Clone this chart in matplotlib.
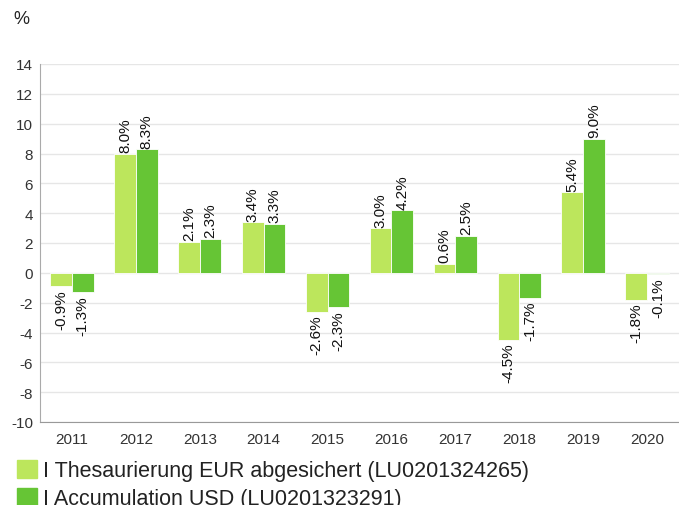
import numpy as np
import matplotlib.pyplot as plt
from matplotlib.patches import Patch

plt.rcParams['font.family'] = ['Liberation Sans', 'DejaVu Sans']
plt.rcParams['axes.unicode_minus'] = False

years = ["2011", "2012", "2013", "2014", "2015", "2016", "2017", "2018", "2019", "2020"]
eur_hedged = [-0.9, 8.0, 2.1, 3.4, -2.6, 3.0, 0.6, -4.5, 5.4, -1.8]
usd_acc = [-1.3, 8.3, 2.3, 3.3, -2.3, 4.2, 2.5, -1.7, 9.0, -0.1]
series_names = ["I Thesaurierung EUR abgesichert (LU0201324265)",
                "I Accumulation USD (LU0201323291)"]
colors = ["#bce65c", "#66c535"]

fig = plt.figure(figsize=(6.79, 5.06), dpi=100)
ax = fig.add_axes([40/679, 1-423/506, 1-40/679, (423-65)/506])

x = np.arange(len(years))
w = 0.34
for vals, off, c in [(eur_hedged, -w/2, colors[0]), (usd_acc, w/2, colors[1])]:
    bars = ax.bar(x + off, vals, width=w, color=c, edgecolor="white", linewidth=0.6, zorder=2)
    for b, v in zip(bars, vals):
        xc = b.get_x() + b.get_width()/2
        if v >= 0:
            ax.annotate(f"{v:.1f}%", (xc, v), xytext=(0, 1), textcoords="offset points",
                        rotation=90, ha="center", va="bottom", fontsize=11, color="#111111")
        else:
            ax.annotate(f"{v:.1f}%", (xc, v), xytext=(0, -2), textcoords="offset points",
                        rotation=90, ha="center", va="top", fontsize=11, color="#111111")

ax.set_xlim(-0.5, 9.5)
ax.set_ylim(-10, 14)
ax.set_yticks(range(-10, 15, 2))
ax.set_xticks(x)
ax.set_xticklabels(years)
ax.grid(axis="y", color="#e6e6e6", linewidth=1, zorder=0)
for s in ["top", "right"]:
    ax.spines[s].set_visible(False)
ax.spines["left"].set_color("#aaaaaa")
ax.spines["bottom"].set_color("#999999")
ax.tick_params(axis="y", length=0, labelsize=11, labelcolor="#333333", pad=5)
ax.tick_params(axis="x", length=0, labelsize=11, labelcolor="#333333", pad=7)

fig.text(13/679, 1-19/506, "%", fontsize=13, color="#222222", va="center")

handles = [Patch(color=c, label=n) for c, n in zip(colors, series_names)]
fig.legend(handles=handles, loc="upper left", bbox_to_anchor=(17/679, 1-461/506),
           frameon=False, fontsize=15.5, handlelength=0.92, handleheight=0.92,
           handletextpad=0.3, labelspacing=0.3, borderaxespad=0, borderpad=0,
           labelcolor="#222222")

fig.savefig("out.png", dpi=100)
